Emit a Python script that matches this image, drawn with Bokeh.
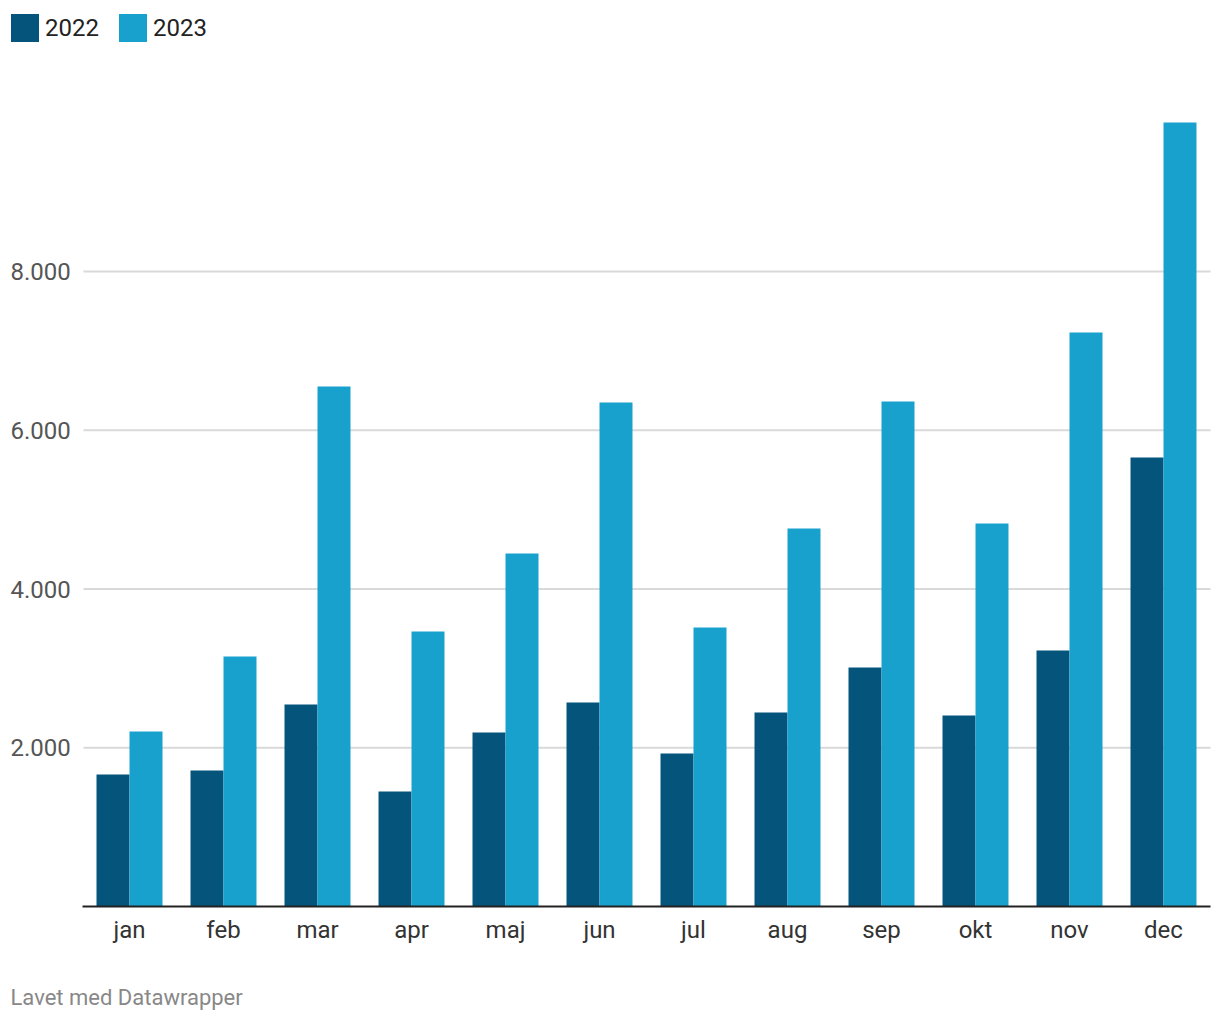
from bokeh.plotting import figure
from bokeh.models import Range1d, Legend, LegendItem, Label
from bokeh.core.properties import value
from bokeh.embed import file_html
from bokeh.resources import INLINE

months = ["jan", "feb", "mar", "apr", "maj", "jun", "jul", "aug", "sep", "okt", "nov", "dec"]
v2022 = [1663, 1713, 2545, 1449, 2192, 2570, 1928, 2444, 3011, 2406, 3225, 5657]
v2023 = [2205, 3150, 6551, 3465, 4447, 6350, 3515, 4762, 6362, 4825, 7231, 9877]
ticks = [2000, 4000, 6000, 8000]
tick_labels = ["2.000", "4.000", "6.000", "8.000"]

c2022 = "#04547c"
c2023 = "#18a1cd"
FONT = "Roboto"

W, H = 1220, 1020
# layout in pixels
plot_left, plot_right, base_y = 82, 1210, 906
cat_w = (plot_right - plot_left) / len(months)   # px per month
px_per_unit = 158.75 / 2000                       # px per value unit

# data ranges so that the frame covers the whole canvas
x0 = -(plot_left + cat_w / 2) / cat_w
x1 = x0 + W / cat_w
y1 = base_y / px_per_unit
y0 = -(H - base_y) / px_per_unit

p = figure(width=W, height=H, output_backend="svg", toolbar_location=None,
           x_range=Range1d(x0, x1), y_range=Range1d(y0, y1),
           min_border=0, outline_line_color=None,
           background_fill_color="white", border_fill_color="white")
p.axis.visible = False
p.grid.visible = False

idx = list(range(len(months)))
bw = 0.351

left_edge = -0.5
right_edge = len(months) - 0.5

# gridlines
p.segment(x0=[left_edge + 1 / cat_w] * len(ticks), x1=[right_edge] * len(ticks), y0=ticks, y1=ticks,
          line_color="#d9d9d9", line_width=2)

r1 = p.vbar(x=[i - bw / 2 for i in idx], top=v2022, width=bw, fill_color=c2022, line_color=None)
r2 = p.vbar(x=[i + bw / 2 for i in idx], top=v2023, width=bw, fill_color=c2023, line_color=None)

# baseline
p.segment(x0=[left_edge], x1=[right_edge], y0=[0], y1=[0], line_color="#222222", line_width=2)

# y tick labels
p.text(x=[x0] * len(ticks), y=ticks, text=tick_labels, x_offset=10,
       text_font=value(FONT), text_font_size="24px", text_color="#555555",
       text_align="left", text_baseline="middle")

# month labels
p.text(x=idx, y=[0] * len(months), text=months, y_offset=23,
       text_font=value(FONT), text_font_size="24px", text_color="#333333",
       text_align="center", text_baseline="middle")

legend = Legend(items=[LegendItem(label="2022", renderers=[r1]), LegendItem(label="2023", renderers=[r2])],
                orientation="horizontal", location=(7, H - 45),
                glyph_width=35, glyph_height=35, label_standoff=3, spacing=16,
                padding=0, margin=0, border_line_color=None, background_fill_alpha=0,
                label_text_font=FONT, label_text_font_size="24px", label_text_color="#222222",
                label_height=35)
p.add_layout(legend, "center")

foot = Label(x=10, y=H - 997, x_units="screen", y_units="screen", text="Lavet med Datawrapper",
             text_font=FONT, text_font_size="22px", text_color="#888888", text_baseline="middle")
p.add_layout(foot)

open("out.html", "w").write(file_html(p, INLINE))
